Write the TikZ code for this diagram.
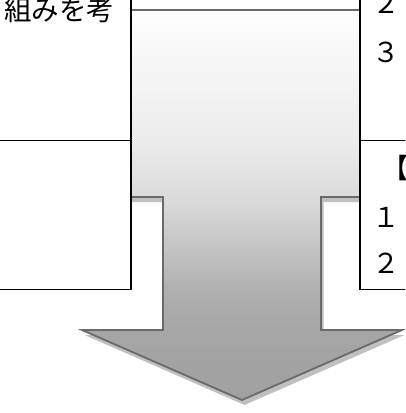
\documentclass[tikz,border=0pt]{standalone}
\usepackage{fontspec}
\newfontfamily\jp{Noto Sans CJK JP}
\pgfdeclareverticalshading{arrowshade}{100bp}{color(0bp)=(black!37); color(25bp)=(black!37); color(33.97bp)=(black!35); color(39.1bp)=(black!31); color(50.64bp)=(black!14.5); color(58.33bp)=(black!7.5); color(75bp)=(black!0.5); color(100bp)=(black!0.5)}
\definecolor{arrline}{HTML}{6A6A6A}
\definecolor{shadowgray}{HTML}{C0C0C0}
\tikzset{
  box/.style={draw=black, line width=1.5pt, fill=white, inner sep=0pt, anchor=north west},
  txt/.style={inner sep=0pt, anchor=base west, font=\jp\fontsize{27.5pt}{33pt}\selectfont},
  arrowbody/.style={draw=arrline, line width=1.8pt, line join=miter, shading=arrowshade},
}
\begin{document}
\begin{tikzpicture}[x=1pt, y=-1pt]
\useasboundingbox (0,0) rectangle (405,413);
\clip (0,0) rectangle (405,413);
% shadow
\fill[shadowgray, shift={(2.5,5)}]
  (110,10) -- (380,10) -- (380,197) -- (321,197) -- (321,330) -- (402,330)
  -- (242,400) -- (82,330) -- (163,330) -- (163,197) -- (110,197) -- cycle;
% arrow callout
\path[arrowbody]
  (110,10) -- (380,10) -- (380,197) -- (321,197) -- (321,330) -- (402,330)
  -- (242,400) -- (82,330) -- (163,330) -- (163,197) -- (110,197) -- cycle;
% boxes
\node[box, minimum width=140pt, minimum height=149.5pt] (lt) at (-10,-10) {};
\node[box, minimum width=140pt, minimum height=149pt] (lb) at (-10,139.5) {};
\node[box, minimum width=70pt, minimum height=149.5pt] (rt) at (359,-10) {};
\node[box, minimum width=70pt, minimum height=149pt] (rb) at (359,139.5) {};
% texts
\node[txt, anchor=base east] (t1) at (114.5,20) {組みを考};
\node[txt] (r1) at (372,13) {２};
\node[txt] (r2) at (372,62) {３};
\node[txt] (r3) at (381,178) {【};
\node[txt] (r4) at (372,227) {１};
\node[txt] (r5) at (372,273) {２};
\end{tikzpicture}
\end{document}
